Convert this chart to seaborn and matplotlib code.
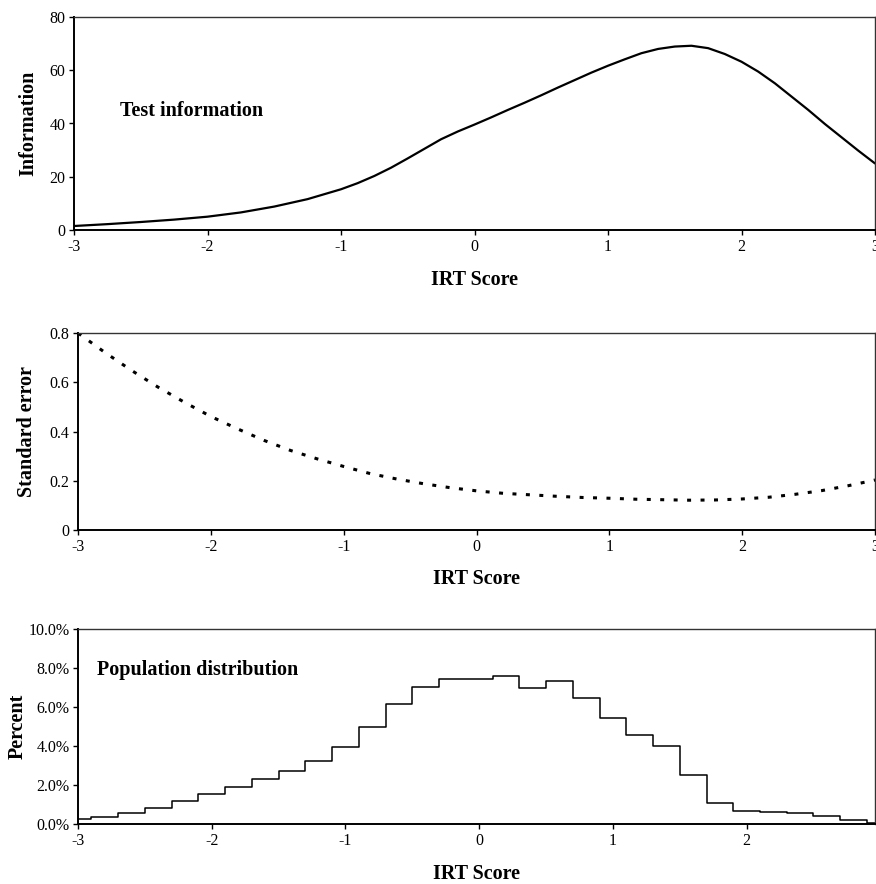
import matplotlib
matplotlib.use("Agg")
import matplotlib.pyplot as plt
from matplotlib.ticker import FuncFormatter, PercentFormatter
import seaborn as sns
import pandas as pd

# ---------------- data ----------------
info_x = [-3.0, -2.75, -2.5, -2.25, -2.0, -1.75, -1.5, -1.25, -1.0, -0.875, -0.75, -0.625,
          -0.5, -0.375, -0.25, -0.125, 0.0, 0.125, 0.25, 0.375, 0.5, 0.625, 0.75, 0.875,
          1.0, 1.125, 1.25, 1.375, 1.5, 1.625, 1.75, 1.875, 2.0, 2.125, 2.25, 2.375,
          2.5, 2.625, 2.75, 2.875, 3.0]
info_y = [1.5, 2.2, 3.0, 3.9, 5.0, 6.6, 8.8, 11.6, 15.3, 17.6, 20.3, 23.4,
          26.9, 30.5, 34.1, 37.0, 39.6, 42.3, 45.1, 47.8, 50.6, 53.5, 56.3, 59.1,
          61.7, 64.1, 66.4, 68.0, 68.9, 69.2, 68.3, 66.1, 63.2, 59.5, 55.1, 50.1,
          45.1, 39.8, 34.8, 29.8, 25.0]

se_x = [-3.0, -2.8, -2.6, -2.4, -2.2, -2.0, -1.8, -1.6, -1.4, -1.2, -1.0, -0.8, -0.6, -0.4, -0.2,
        0.0, 0.2, 0.4, 0.6, 0.8, 1.0, 1.2, 1.4, 1.6, 1.8, 2.0, 2.2, 2.4, 2.6, 2.8, 3.0]
se_y = [0.800, 0.722, 0.649, 0.581, 0.519, 0.461, 0.411, 0.364, 0.323, 0.289, 0.258, 0.229, 0.207,
        0.188, 0.172, 0.159, 0.149, 0.143, 0.137, 0.132, 0.129, 0.125, 0.123, 0.121, 0.122, 0.126,
        0.133, 0.145, 0.160, 0.180, 0.203]

pop_x = [-3.0, -2.8, -2.6, -2.4, -2.2, -2.0, -1.8, -1.6, -1.4, -1.2, -1.0, -0.8, -0.6, -0.4, -0.2,
         0.0, 0.2, 0.4, 0.6, 0.8, 1.0, 1.2, 1.4, 1.6, 1.8, 2.0, 2.2, 2.4, 2.6, 2.8, 3.0]
pop_pct = [0.24, 0.37, 0.58, 0.84, 1.16, 1.56, 1.92, 2.29, 2.74, 3.25, 3.96, 4.97, 6.13, 7.05, 7.42,
           7.44, 7.57, 6.97, 7.33, 6.46, 5.43, 4.57, 4.01, 2.50, 1.06, 0.65, 0.60, 0.55, 0.39, 0.19, 0.07]

x_ticks = [-3, -2, -1, 0, 1, 2, 3]
x_ticks_pop = [-3, -2, -1, 0, 1, 2]
info_ticks = [0, 20, 40, 60, 80]
se_ticks = [0, 0.2, 0.4, 0.6, 0.8]
pop_ticks = [0, 2, 4, 6, 8, 10]

# ---------------- style ----------------
sns.set_style("white")
plt.rcParams["font.family"] = ["Liberation Serif", "DejaVu Serif"]
plt.rcParams["font.size"] = 11.5
plt.rcParams["axes.unicode_minus"] = False
for key in ["text.color", "axes.labelcolor", "xtick.color", "ytick.color"]:
    plt.rcParams[key] = "black"

W, H = 876, 884
fig = plt.figure(figsize=(W / 100, H / 100), dpi=100)


def make_axes(left, right, top, bottom):
    return fig.add_axes([left / W, 1 - bottom / H, (right - left) / W, (bottom - top) / H])


ax1 = make_axes(74, 875, 17, 230)
ax2 = make_axes(78, 875, 333, 530)
ax3 = make_axes(78, 875, 629, 824)

df_info = pd.DataFrame({"IRT Score": info_x, "Information": info_y})
df_se = pd.DataFrame({"IRT Score": se_x, "Standard error": se_y})
df_pop = pd.DataFrame({"IRT Score": pop_x, "Percent": pop_pct})

sns.lineplot(data=df_info, x="IRT Score", y="Information", ax=ax1, color="black", linewidth=1.6)
sns.lineplot(data=df_se, x="IRT Score", y="Standard error", ax=ax2, color="black",
             linewidth=2.2, linestyle=(0, (1.3, 3.1)))
sns.lineplot(data=df_pop, x="IRT Score", y="Percent", ax=ax3, color="black",
             linewidth=1.1, drawstyle="steps-mid")

label_font = dict(fontsize=14.5, fontweight="bold", color="black")

for ax, ylim, yticks in [(ax1, (0, 80), info_ticks), (ax2, (0, 0.8), se_ticks), (ax3, (0, 10), pop_ticks)]:
    ax.set_ylim(*ylim)
    ax.set_yticks(yticks)
    ax.grid(False)
    for side in ["left", "bottom"]:
        ax.spines[side].set_color("black")
        ax.spines[side].set_linewidth(1.4)
    for side in ["top", "right"]:
        ax.spines[side].set_color("#333333")
        ax.spines[side].set_linewidth(1.0)
    ax.tick_params(axis="both", which="major", direction="out", length=3.6, width=1.0,
                   color="black", labelcolor="black", labelsize=11.5,
                   bottom=True, left=True, top=False, right=False)
    ax.tick_params(axis="x", pad=3)
    ax.tick_params(axis="y", pad=2.5)

ax1.set_xlim(-3, 3)
ax2.set_xlim(-3, 3)
ax3.set_xlim(-3, 2.96)
ax1.set_xticks(x_ticks)
ax2.set_xticks(x_ticks)
ax3.set_xticks(x_ticks_pop)

ax2.yaxis.set_major_formatter(FuncFormatter(lambda v, p: "0" if v == 0 else f"{v:.1f}"))
ax3.yaxis.set_major_formatter(PercentFormatter(xmax=100, decimals=1))

for ax, ylab, xl_y, yl_x in [(ax1, "Information", -0.2347, -0.0574),
                             (ax2, "Standard error", -0.249, -0.064),
                             (ax3, "Percent", -0.256, -0.0753)]:
    ax.set_xlabel("IRT Score", **label_font)
    ax.set_ylabel(ylab, **label_font)
    ax.xaxis.label.set_verticalalignment("center")
    ax.yaxis.label.set_verticalalignment("center")
    ax.xaxis.set_label_coords(0.5, xl_y)
    ax.yaxis.set_label_coords(yl_x, 0.5)

ax1.text(-2.655, 44.8, "Test information", ha="left", va="center", **label_font)
ax3.text(-2.86, 7.9, "Population distribution", ha="left", va="center", **label_font)

fig.savefig("out.png", dpi=100)
